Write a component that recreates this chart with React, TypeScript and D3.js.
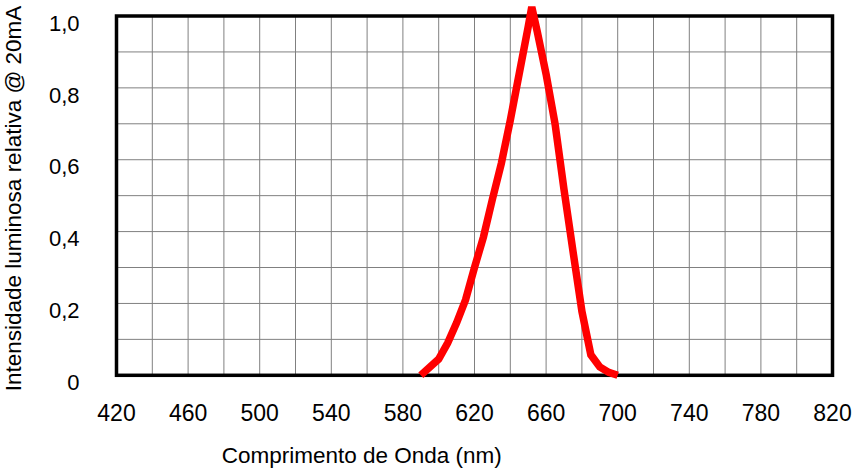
import React from "react";
import * as d3 from "d3";

const wavelengths = [590, 600, 605, 610, 615, 620, 625, 630, 635, 640, 645, 650, 652, 655, 660, 665, 670, 675, 680, 685, 690, 695, 700];
const intensity = [0, 0.045, 0.09, 0.146, 0.21, 0.3, 0.385, 0.49, 0.59, 0.71, 0.84, 0.97, 1.025, 0.958, 0.838, 0.7, 0.517, 0.346, 0.178, 0.057, 0.023, 0.008, 0];

const xTickLabels = [420, 460, 500, 540, 580, 620, 660, 700, 740, 780, 820];
const xGrid = d3.range(420, 821, 20);
const yTickLabels = [0, 0.2, 0.4, 0.6, 0.8, 1.0];
const yGrid = d3.range(0, 1.0001, 0.1);

const xTitle = "Comprimento de Onda (nm)";
const yTitle = "Intensidade luminosa relativa @ 20mA";

const W = 858;
const H = 476;
const L = 116.5, R = 832.5, T = 16, B = 375.3;

const fmt = (v: number) => (v === 0 ? "0" : v.toFixed(1).replace(".", ","));

export default function App() {
  const x = d3.scaleLinear().domain([420, 820]).range([L, R]);
  const y = d3.scaleLinear().domain([0, 1]).range([B, T]);
  const pts: [number, number][] = wavelengths.map((w, i) => [w, intensity[i]]);
  const line = d3
    .line<[number, number]>()
    .x((d) => x(d[0]))
    .y((d) => y(d[1]));
  const font = "'Liberation Sans', Arial, Helvetica, sans-serif";
  return (
    <svg
      width={W}
      height={H}
      style={{ position: "absolute", left: 0, top: 0, background: "#fff" }}
      fontFamily={font}
    >
      <rect x={0} y={0} width={W} height={H} fill="#fff" />
      {xGrid.map((g) => (
        <line key={"xg" + g} x1={x(g)} x2={x(g)} y1={T} y2={B} stroke="#808080" strokeWidth={1} />
      ))}
      {yGrid.map((g, i) => (
        <line key={"yg" + i} x1={L} x2={R} y1={y(g)} y2={y(g)} stroke="#808080" strokeWidth={1} />
      ))}
      <rect x={L} y={T} width={R - L} height={B - T} fill="none" stroke="#000" strokeWidth={3.5} />
      <path
        d={line(pts) || ""}
        fill="none"
        stroke="#ff0000"
        strokeWidth={7.5}
        strokeLinejoin="miter"
        strokeMiterlimit={4}
      />
      {xTickLabels.map((t) => (
        <text key={"xt" + t} x={x(t)} y={420.7} textAnchor="middle" fontSize={23} fill="#000">
          {t}
        </text>
      ))}
      {yTickLabels.map((t) => (
        <text key={"yt" + t} x={79.5} y={y(t) + 14.7} textAnchor="end" fontSize={22} fill="#000">
          {fmt(t)}
        </text>
      ))}
      <text x={361.7} y={463.3} textAnchor="middle" fontSize={22.5} fill="#000">
        {xTitle}
      </text>
      <text
        transform={`translate(20.5, 198.5) rotate(-90)`}
        textAnchor="middle"
        fontSize={22.5}
        fill="#000"
      >
        {yTitle}
      </text>
    </svg>
  );
}
